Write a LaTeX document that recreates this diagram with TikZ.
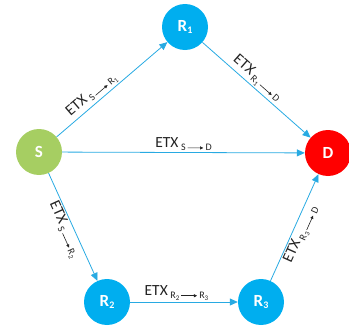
\documentclass[tikz,border=0pt]{standalone}
\usepackage{fontspec}
\setmainfont{Carlito}
\usetikzlibrary{arrows.meta}
\definecolor{ngreen}{RGB}{166,206,98}
\definecolor{nblue}{RGB}{0,174,239}
\definecolor{nred}{RGB}{255,0,0}
\definecolor{eline}{RGB}{40,170,226}
\definecolor{labtext}{RGB}{35,35,35}
\newcommand{\subarrow}{\tikz[baseline=-0.6ex]\draw[-{Latex[length=3.5pt,width=3.5pt]},line width=0.6pt](0,0)--(16pt,0);}
\newcommand{\etxlab}[2]{ETX\,\raisebox{-0.45ex}{\fontsize{10}{10}\selectfont #1\,\subarrow\,#2}}
\newcommand{\rsub}[1]{R\raisebox{-0.35ex}{\fontsize{7}{7}\selectfont #1}}
\tikzset{
  netnode/.style={circle, minimum size=46pt, inner sep=0pt, draw=none, text=white,
    font=\bfseries\fontsize{17}{17}\selectfont},
  edge/.style={draw=eline, line width=0.8pt, -{Triangle[length=8pt,width=7pt]}},
  lab/.style={text=labtext, font=\fontsize{15.5}{15.5}\selectfont, inner sep=1.5pt, sloped}
}
\begin{document}
\begin{tikzpicture}[x=1pt,y=-1pt]
\useasboundingbox (0,0) rectangle (349,332);
\node[netnode, fill=ngreen] (S) at (39,152) {S};
\node[netnode, fill=nblue] (R1) at (185,27) {R\raisebox{-0.35ex}{\fontsize{10}{10}\selectfont 1}};
\node[netnode, fill=nred] (D) at (328,153) {D};
\node[netnode, fill=nblue] (R2) at (107,302) {R\raisebox{-0.35ex}{\fontsize{10}{10}\selectfont 2}};
\node[netnode, fill=nblue] (R3) at (261,302) {R\raisebox{-0.35ex}{\fontsize{10}{10}\selectfont 3}};

\draw[edge] (S) -- node[lab, above, pos=0.37] {\etxlab{S}{\rsub{1}}} (R1);
\draw[edge] (R1) -- node[lab, above, pos=0.45] {\etxlab{\rsub{1}}{D}} (D);
\draw[edge] (S) -- node[lab, above, pos=0.5] {\etxlab{S}{D}} (D);
\draw[edge] (S) -- node[lab, below, pos=0.49] {\etxlab{S}{\rsub{2}}} (R2);
\draw[edge] (R2) -- node[lab, above, pos=0.43] {\etxlab{\rsub{2}}{\rsub{3}}} (R3);
\draw[edge] (R3) -- node[lab, below, pos=0.47] {\etxlab{\rsub{3}}{D}} (D);
\end{tikzpicture}
\end{document}
